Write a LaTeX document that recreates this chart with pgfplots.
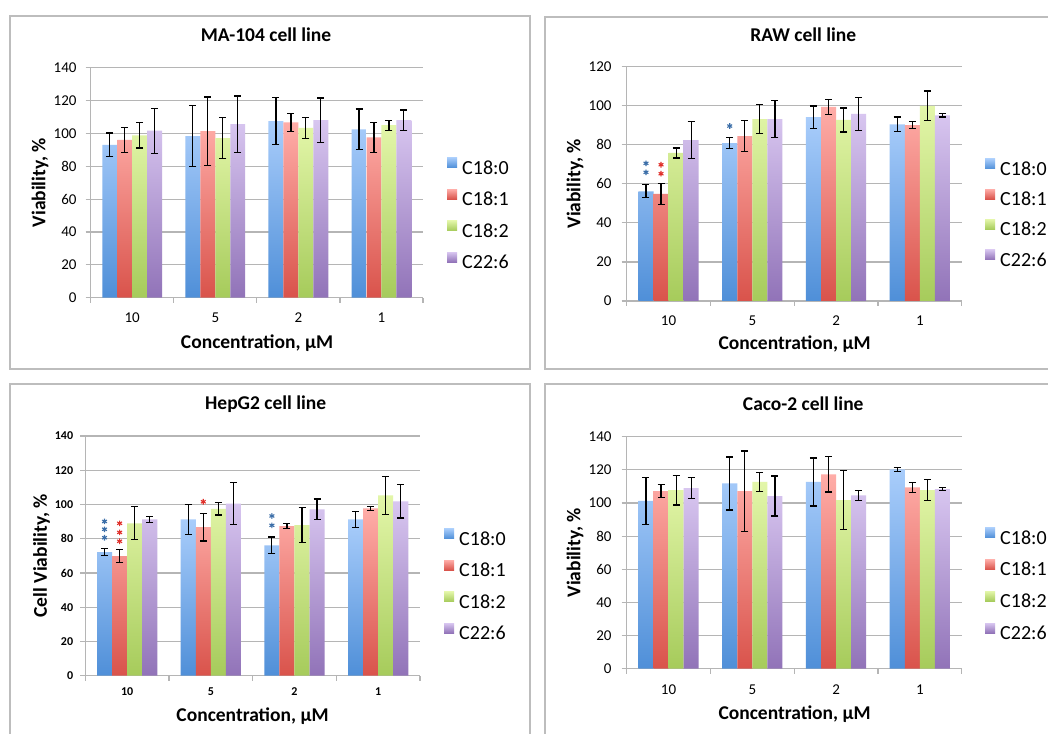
\documentclass[border=0pt]{standalone}
\usepackage{fontspec}
\setmainfont{Carlito}
\usepackage{pgfplots}
\usepackage{pgfplotstable}
\pgfplotsset{compat=1.18}

\definecolor{blueT}{HTML}{A9CDFB}
\definecolor{blueB}{HTML}{4F8FD8}
\definecolor{redT}{HTML}{FFADA8}
\definecolor{redB}{HTML}{D9534B}
\definecolor{greenT}{HTML}{E3F6A9}
\definecolor{greenB}{HTML}{A6CB5B}
\definecolor{purT}{HTML}{D8C6F0}
\definecolor{purB}{HTML}{9173B8}
\definecolor{gridgray}{HTML}{B5B5B5}
\definecolor{boxgray}{HTML}{BDBDBD}
\definecolor{starblue}{HTML}{3B6EA8}
\definecolor{starred}{HTML}{E0302A}

% x = group (0:10, 1:5, 2:2, 3:1 uM); a..d = C18:0, C18:1, C18:2, C22:6
\pgfplotstableread{
x a ae b be c ce d de
0 93.0 7.3 96.0 7.8 98.8 7.7 101.7 13.7
1 98.4 18.5 101.4 20.8 97.2 12.7 105.7 17.1
2 107.5 14.4 106.7 5.3 103.4 6.3 108.1 13.4
3 102.4 12.4 97.6 9.0 105.0 3.0 108.1 6.1
}\tabMA
\pgfplotstableread{
x a ae b be c ce d de
0 56.2 3.3 54.8 5.2 75.8 2.6 82.4 9.6
1 80.9 3.0 84.5 8.0 93.2 7.4 93.2 9.4
2 94.2 5.7 99.4 3.9 92.7 6.1 95.8 8.5
3 90.5 3.7 90.1 1.7 99.9 7.6 95.1 0.9
}\tabRAW
\pgfplotstableread{
x a ae b be c ce d de
0 72.2 1.9 69.9 3.9 89.0 9.6 91.3 1.9
1 91.3 8.9 86.8 8.1 97.5 3.7 100.5 12.3
2 76.1 4.9 87.4 1.5 88.0 10.3 97.2 6.0
3 91.3 4.7 97.7 1.0 105.3 11.0 101.8 9.7
}\tabHep
\pgfplotstableread{
x a ae b be c ce d de
0 101.2 14.1 107.2 4.1 107.8 9.0 109.0 6.2
1 111.8 16.0 107.2 24.2 112.7 5.6 104.2 12.1
2 112.7 14.5 117.3 10.7 101.8 17.6 104.6 3.0
3 120.3 1.3 109.4 3.1 107.8 6.3 108.4 0.8
}\tabCaco

\pgfplotsset{
  cellpanel/.style={
    scale only axis,
    anchor=south west,
    xmin=-0.5, xmax=3.5, ymin=0,
    ytick distance=20,
    axis lines=left,
    axis line style={draw=gridgray, line width=1.2pt, -},
    ymajorgrids,
    grid style={draw=gridgray, line width=1.2pt},
    tick align=outside,
    major tick length=5pt,
    tick style={draw=gridgray, line width=1.2pt},
    xtick={-0.5,0.5,1.5,2.5,3.5}, xticklabels={},
    extra x ticks={0,1,2,3}, extra x tick labels={10,5,2,1},
    extra x tick style={major tick length=0pt, grid=none},
    /pgf/number format/assume math mode=true,
    ticklabel style={font=\fontsize{15}{18}\selectfont, inner sep=0pt},
    title style={font=\bfseries\fontsize{19.5}{23}\selectfont, anchor=center},
    label style={font=\bfseries\fontsize{19.5}{23}\selectfont, anchor=center},
    legend style={draw=none, fill=none, inner sep=0pt, anchor=north west,
      row sep=13pt, column sep=5pt, font=\fontsize{20}{24}\selectfont,
      nodes={inner sep=0pt, text height=12pt, text depth=2pt}},
    legend cell align=left,
  },
  bbar/.style n args={3}{
    ybar, bar width=0.18, bar shift=#3,
    top color=#1, bottom color=#2, draw=none,
    legend image code/.code={\path[##1, draw=none] (0pt,1.5pt) rectangle (10pt,11.5pt);},
  },
  errb/.style={sharp plot, draw=none, mark=none, forget plot,
    error bars/.cd, y dir=both, y explicit, error mark=-,
      error bar style={draw=black, line width=1.2pt},
      error mark options={rotate=90, draw=black, line width=1.2pt, mark size=3.5pt},
  },
  stars/.style={sharp plot, only marks, mark=asterisk, mark size=2.8pt,
    mark options={draw=#1, line width=1.1pt}, forget plot},
}

\newcommand{\fourbars}[1]{%
  \addplot[bbar={blueT}{blueB}{-0.27}] table[x=x, y=a] {#1};
  \addplot[bbar={redT}{redB}{-0.09}] table[x=x, y=b] {#1};
  \addplot[bbar={greenT}{greenB}{0.09}] table[x=x, y=c] {#1};
  \addplot[bbar={purT}{purB}{0.27}] table[x=x, y=d] {#1};
  \legend{C18:0,C18:1,C18:2,C22:6}%
  \addplot[errb] table[x expr=\thisrow{x}-0.27, y=a, y error=ae] {#1};
  \addplot[errb] table[x expr=\thisrow{x}-0.09, y=b, y error=be] {#1};
  \addplot[errb] table[x expr=\thisrow{x}+0.09, y=c, y error=ce] {#1};
  \addplot[errb] table[x expr=\thisrow{x}+0.27, y=d, y error=de] {#1};
}

\begin{document}
\begin{tikzpicture}
\useasboundingbox (0,0) rectangle (1048pt,733pt);
\clip (0,0) rectangle (1048pt,733pt);
\fill[white] (0,0) rectangle (1048pt,733pt);

\draw[boxgray, line width=1.5pt] (10pt,364pt) rectangle (530pt,717pt);
\draw[boxgray, line width=1.5pt] (545pt,364pt) rectangle (1070pt,716pt);
\draw[boxgray, line width=1.5pt] (10pt,-10pt) rectangle (530pt,349pt);
\draw[boxgray, line width=1.5pt] (545pt,-10pt) rectangle (1070pt,349pt);

% MA-104
\begin{axis}[cellpanel,
  at={(90.7pt,435.3pt)}, width=332.3pt, height=230pt,
  ymax=140,
  title={MA-104 cell line},
  title style={at={(axis description cs:0.5275,1.116)}},
  xlabel={Concentration, µM},
  xlabel style={at={(axis description cs:0.5005,-0.198)}},
  ylabel={Viability, \%},
  ylabel style={at={(axis description cs:-0.1526,0.5)}},
  yticklabel style={anchor=east, xshift=-9pt},
  extra x tick style={xticklabel style={anchor=north, yshift=-15pt}},
  legend style={at={(axis description cs:1.0722,0.61)}},
]
\fourbars{\tabMA}
\end{axis}

% RAW
\begin{axis}[cellpanel,
  at={(626.7pt,432pt)}, width=335pt, height=234.3pt,
  ymax=120,
  title={RAW cell line},
  title style={at={(axis description cs:0.527,1.1097)}},
  xlabel={Concentration, µM},
  xlabel style={at={(axis description cs:0.501,-0.1848)}},
  ylabel={Viability, \%},
  ylabel style={at={(axis description cs:-0.1543,0.5)}},
  yticklabel style={anchor=east, xshift=-10pt},
  extra x tick style={xticklabel style={anchor=north, yshift=-14.5pt}},
  legend style={at={(axis description cs:1.0696,0.6073)}, row sep=11.7pt},
]
\fourbars{\tabRAW}
\addplot[stars=starblue] coordinates {(-0.27,70.5) (-0.27,65.9) (0.73,89.6)};
\addplot[stars=starred] coordinates {(-0.09,69.8) (-0.09,65.2)};
\end{axis}

% HepG2
\begin{axis}[cellpanel,
  at={(85.3pt,57.3pt)}, width=334.7pt, height=239.7pt,
  ymax=140,
  ticklabel style={font=\bfseries\fontsize{12}{14}\selectfont},
  title={HepG2 cell line},
  title style={at={(axis description cs:0.539,1.1085)}},
  xlabel={Concentration, µM},
  xlabel style={at={(axis description cs:0.4996,-0.168)}},
  ylabel={Cell Viability, \%},
  ylabel style={at={(axis description cs:-0.1303,0.5)}},
  yticklabel style={anchor=east, xshift=-7pt},
  extra x tick style={xticklabel style={anchor=north, yshift=-11.5pt}},
  legend style={at={(axis description cs:1.0717,0.6145)}},
]
\fourbars{\tabHep}
\addplot[stars=starblue] coordinates {(-0.27,90.1) (-0.27,85.5) (-0.27,80.6) (1.73,93.3) (1.73,87.8)};
\addplot[stars=starred] coordinates {(-0.09,89.0) (-0.09,83.7) (-0.09,78.5) (0.91,101.6)};
\end{axis}

% Caco-2
\begin{axis}[cellpanel,
  at={(626.7pt,64.3pt)}, width=335pt, height=232pt,
  ymax=140,
  title={Caco-2 cell line},
  title style={at={(axis description cs:0.527,1.115)}},
  xlabel={Concentration, µM},
  xlabel style={at={(axis description cs:0.501,-0.1966)}},
  ylabel={Viability, \%},
  ylabel style={at={(axis description cs:-0.1543,0.5)}},
  yticklabel style={anchor=east, xshift=-10pt},
  extra x tick style={xticklabel style={anchor=north, yshift=-15.8pt}},
  legend style={at={(axis description cs:1.0696,0.609)}, row sep=13.3pt},
]
\fourbars{\tabCaco}
\end{axis}
\end{tikzpicture}
\end{document}
